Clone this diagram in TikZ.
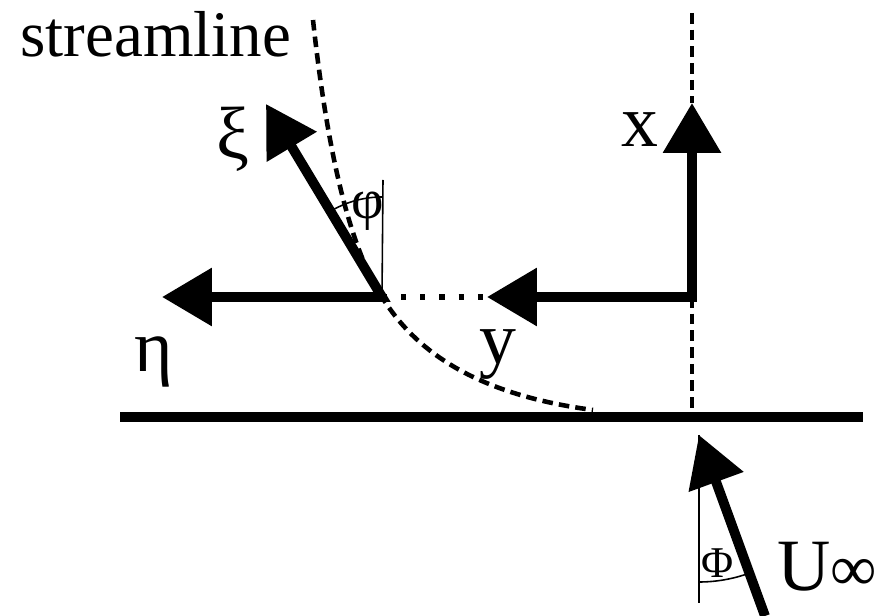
\documentclass[tikz,border=0pt]{standalone}
\usepackage{fontspec}
\setmainfont{Liberation Serif}
\usetikzlibrary{arrows.meta}

\begin{document}
\begin{tikzpicture}[
  x=0.02cm, y=0.02cm,
  >={Triangle[length=10mm, width=11.2mm]},
  vec/.style={line width=5.6pt, line join=miter},
  wall/.style={line width=5.9pt},
  dashline/.style={line width=2.6pt, dash pattern=on 6pt off 3.5pt},
  dotline/.style={line width=2.9pt, dash pattern=on 2.9pt off 8pt},
  guide/.style={line width=0.9pt},
  lbl/.style={inner sep=0pt, font=\fontsize{42}{46}\selectfont},
  slbl/.style={inner sep=0pt, font=\fontsize{25}{28}\selectfont}
]
\useasboundingbox (0,0) rectangle (887,616);

%============ POINTS ============
\coordinate (O) at (382,319);
\coordinate (C) at (692,319);
\coordinate (xtip) at (692,513);
\coordinate (ytip) at (487,319);
\coordinate (etatip) at (162,319);
\coordinate (xitip) at (266,512);
\coordinate (P) at (699,181);
\coordinate (Utail) at (765,0);

%============ WALL ============
\coordinate (wl) at (120,199);
\coordinate (wr) at (863,199);
\draw[wall] (wl) -- (wr);

%============ AXES ============
% centre line
\draw[dashline] (692,603) -- (xtip);
\draw[dashline] (C) -- (692,206);
% x, y
\draw[dotline] (O) -- (ytip);
\draw[vec, <->] (ytip) -- (C) -- (xtip);
% xi, eta
\draw[vec, <->] (etatip) -- (O) -- (xitip);

%============ STREAMLINE ============
\draw[dashline] (313,596) .. controls (325,486) and (345,376) .. (O)
  .. controls (417,262) and (480,221) .. (593,206);

% angle phi
\draw[guide] (O) -- (383,436);
\draw[guide] (382,419) arc (90:120:100);
\node[inner sep=0pt, font=\fontsize{32}{36}\selectfont] (phi) at (368,405) {φ};

%============ FREE STREAM ============
\draw[vec, ->] (Utail) -- (P);
\draw[guide] (P) -- (699,13);
\draw[guide] (699,34) arc (270:290:147);
\node[slbl] (Phi) at (718,53) {Φ};

%============ LABELS ============
\node[inner sep=0pt, font=\fontsize{37}{40}\selectfont, anchor=base west] (sl) at (20,559) {streamline};
\node[lbl] (xi) at (233,477) {ξ};
\node[lbl] (xl) at (640,486) {x};
\node[lbl] (eta) at (154,254) {η};
\node[lbl] (yl) at (498,261) {y};
\node[lbl, anchor=west] (U) at (777,49) {U{\fontsize{37}{40}\selectfont ∞}};

\end{tikzpicture}
\end{document}
